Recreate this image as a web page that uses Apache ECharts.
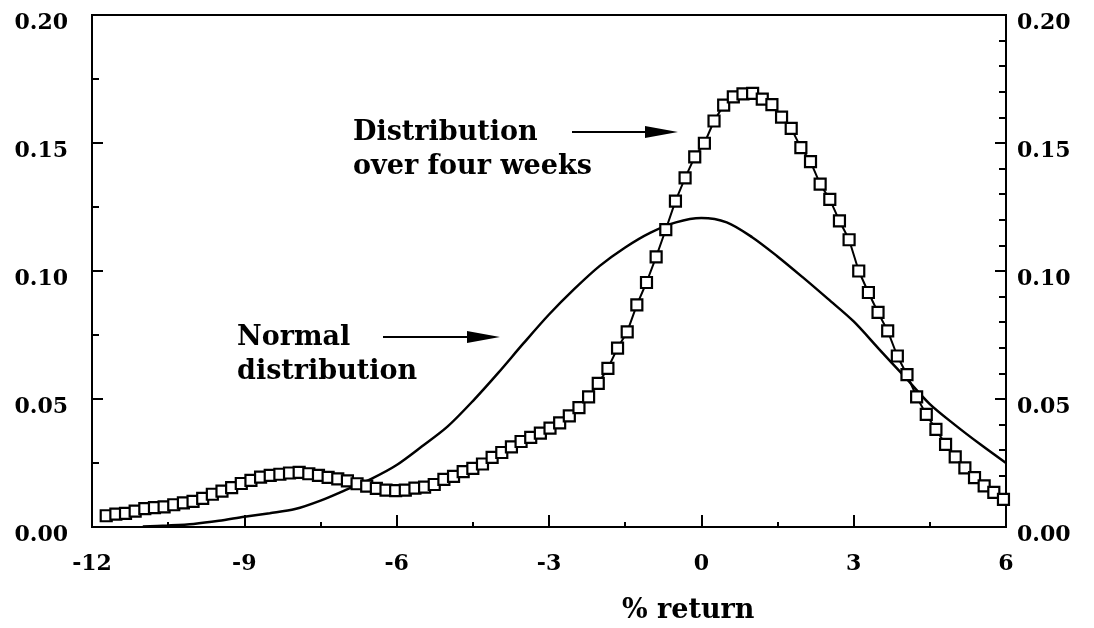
<!DOCTYPE html>
<html>
<head>
<meta charset="utf-8">
<script src="https://cdn.jsdelivr.net/npm/echarts@6/dist/echarts.min.js"></script>
<style>
  html, body { margin: 0; padding: 0; background: #fff; }
  #chart { width: 1094px; height: 628px; }
</style>
</head>
<body>
<div id="chart"></div>
<script>
// four-week return distribution (square markers)
const weekX = [
  -11.72, -11.53, -11.34, -11.15, -10.96, -10.77, -10.58, -10.39, -10.20, -10.01,
  -9.82, -9.63, -9.44, -9.25, -9.06, -8.87, -8.68, -8.49, -8.30, -8.11,
  -7.92, -7.73, -7.54, -7.35, -7.16, -6.97, -6.78, -6.59, -6.40, -6.21,
  -6.02, -5.83, -5.64, -5.45, -5.26, -5.07, -4.88, -4.69, -4.50, -4.31,
  -4.12, -3.93, -3.74, -3.55, -3.36, -3.17, -2.98, -2.79, -2.60, -2.41,
  -2.22, -2.03, -1.84, -1.65, -1.46, -1.27, -1.08, -0.89, -0.70, -0.51,
  -0.32, -0.13, 0.06, 0.25, 0.44, 0.63, 0.82, 1.01, 1.20, 1.39,
  1.58, 1.77, 1.96, 2.15, 2.34, 2.53, 2.72, 2.91, 3.10, 3.29,
  3.48, 3.67, 3.86, 4.05, 4.24, 4.43, 4.62, 4.81, 5.00, 5.19,
  5.38, 5.57, 5.76, 5.95
]
const weekY = [
  0.0044, 0.0050, 0.0053, 0.0062, 0.0072, 0.0076, 0.0079, 0.0087, 0.0094, 0.0100,
  0.0112, 0.0128, 0.0140, 0.0154, 0.0170, 0.0182, 0.0195, 0.0202, 0.0206, 0.0211,
  0.0213, 0.0208, 0.0202, 0.0194, 0.0188, 0.0180, 0.0169, 0.0160, 0.0151, 0.0144,
  0.0142, 0.0144, 0.0152, 0.0156, 0.0166, 0.0186, 0.0198, 0.0216, 0.0229, 0.0246,
  0.0272, 0.0291, 0.0313, 0.0334, 0.0350, 0.0367, 0.0386, 0.0407, 0.0434, 0.0466,
  0.0508, 0.0561, 0.0620, 0.0699, 0.0762, 0.0868, 0.0955, 0.1055, 0.1162, 0.1273,
  0.1364, 0.1446, 0.1499, 0.1586, 0.1648, 0.1680, 0.1692, 0.1694, 0.1671, 0.1650,
  0.1601, 0.1557, 0.1482, 0.1427, 0.1339, 0.1280, 0.1196, 0.1122, 0.1000, 0.0916,
  0.0838, 0.0766, 0.0668, 0.0595, 0.0508, 0.0440, 0.0381, 0.0323, 0.0274, 0.0231,
  0.0193, 0.0161, 0.0135, 0.0108
]

// normal distribution curve
const normalX = [
  -11.0, -10.5, -10.0, -9.5, -9.0, -8.5, -8.0, -7.5, -7.0, -6.5, -6.0, -5.5,
  -5.0, -4.5, -4.0, -3.5, -3.0, -2.5, -2.0, -1.5, -1.0, -0.5, 0.0, 0.5,
  1.0, 1.5, 2.0, 2.5, 3.0, 3.5, 4.0, 4.5, 5.0, 5.5, 6.0
]
const normalY = [
  0.0002, 0.0006, 0.0012, 0.0024, 0.0040, 0.0054, 0.0070, 0.0103, 0.0145, 0.0188, 0.0242, 0.0315,
  0.0392, 0.0492, 0.0602, 0.0718, 0.0830, 0.0930, 0.1020, 0.1092, 0.1150, 0.1190, 0.1207, 0.1190,
  0.1132, 0.1057, 0.0975, 0.0890, 0.0803, 0.0695, 0.0588, 0.0480, 0.0398, 0.0322, 0.0250
]

const xTicks = { min: -12, max: 6, step: 3 }
const yTicks = { min: 0, max: 0.2, step: 0.05 }

const FONT = 'DejaVu Serif'
const INK = '#000'

const chart = echarts.init(document.getElementById('chart'), null, { renderer: 'canvas' })

const labelStyle = { color: INK, fontFamily: FONT, fontWeight: 'bold', fontSize: 22 }

function yAxis(position, minorSplit, margin) {
  return {
    type: 'value',
    position,
    min: yTicks.min,
    max: yTicks.max,
    interval: yTicks.step,
    axisLine: { show: true, onZero: false, lineStyle: { color: INK, width: 2 } },
    axisTick: { show: true, inside: true, length: 11, lineStyle: { color: INK, width: 2 } },
    minorTick: { show: true, splitNumber: minorSplit, length: 7, lineStyle: { color: INK, width: 2 } },
    splitLine: { show: false },
    axisLabel: Object.assign({}, labelStyle, {
      margin,
      verticalAlign: 'top',
      lineHeight: 16,
      formatter: (v) => v.toFixed(2)
    })
  }
}

const option = {
  animation: false,
  backgroundColor: '#fff',
  grid: { left: 92, right: 88, top: 15, bottom: 101, show: true, borderColor: INK, borderWidth: 2 },
  xAxis: {
    type: 'value',
    min: xTicks.min,
    max: xTicks.max,
    interval: xTicks.step,
    axisLine: { show: true, onZero: false, lineStyle: { color: INK, width: 2 } },
    axisTick: { show: true, inside: true, length: 12, lineStyle: { color: INK, width: 2 } },
    minorTick: { show: true, splitNumber: 2, length: 5, lineStyle: { color: INK, width: 2 } },
    splitLine: { show: false },
    axisLabel: Object.assign({}, labelStyle, { margin: 26 })
  },
  yAxis: [yAxis('left', 2, 24), yAxis('right', 5, 11)],
  series: [
    {
      name: 'Normal distribution',
      type: 'line',
      data: normalX.map((x, i) => [x, normalY[i]]),
      smooth: 0.3,
      showSymbol: false,
      lineStyle: { color: INK, width: 2.5 },
      z: 2
    },
    {
      name: 'Distribution over four weeks',
      type: 'line',
      data: weekX.map((x, i) => [x, weekY[i]]),
      symbol: 'rect',
      symbolSize: 11,
      showAllSymbol: true,
      lineStyle: { color: INK, width: 2 },
      itemStyle: { color: '#fff', borderColor: INK, borderWidth: 2.2 },
      z: 3
    }
  ],
  graphic: [
    {
      type: 'text', left: 353, top: 116,
      style: { text: 'Distribution\nover four weeks', fill: INK, font: 'bold 27px "DejaVu Serif"', lineHeight: 34 }
    },
    {
      type: 'text', left: 237, top: 321,
      style: { text: 'Normal\ndistribution', fill: INK, font: 'bold 27px "DejaVu Serif"', lineHeight: 34 }
    },
    { type: 'line', shape: { x1: 572, y1: 132, x2: 650, y2: 132 }, style: { stroke: INK, lineWidth: 2 } },
    { type: 'polygon', shape: { points: [[645, 126], [678, 132], [645, 138]] }, style: { fill: INK } },
    { type: 'line', shape: { x1: 383, y1: 337, x2: 472, y2: 337 }, style: { stroke: INK, lineWidth: 2 } },
    { type: 'polygon', shape: { points: [[467, 331], [500, 337], [467, 343]] }, style: { fill: INK } },
    {
      type: 'text', left: 622, top: 597,
      style: { text: '% return', fill: INK, font: 'bold 27px "DejaVu Serif"' }
    }
  ]
}

chart.setOption(option)
</script>
</body>
</html>
